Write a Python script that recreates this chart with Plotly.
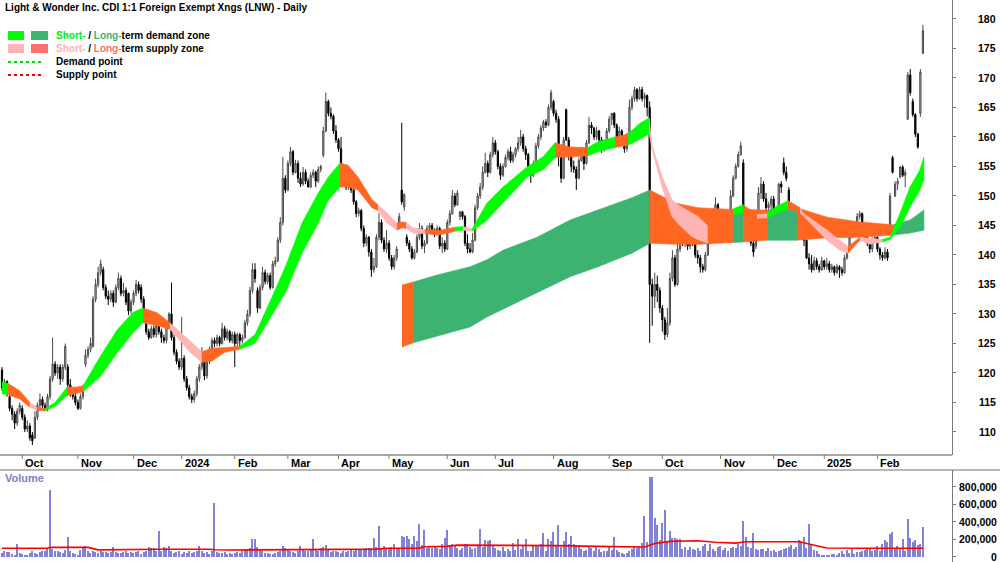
import plotly.graph_objects as go
import pandas as pd

TITLE = "Light &amp; Wonder Inc. CDI 1:1 Foreign Exempt Xngs (LNW) - Daily"

# ASX trading calendar for the chart period
holidays = ["2023-12-25", "2023-12-26", "2024-01-01", "2024-01-26", "2024-03-29", "2024-04-01",
            "2024-04-25", "2024-06-10", "2024-12-25", "2024-12-26", "2025-01-01", "2025-01-27"]
dates = pd.bdate_range("2023-09-20", "2025-02-27")
dates = dates[~dates.isin(pd.to_datetime(holidays))]

opens = [
    120.5, 117.5, 118.5, 116, 114, 113, 111.5, 113.5, 114, 112.5,
    110.5, 111, 109.5, 109, 112.5, 114.5, 115.5, 114.5, 114, 116,
    119, 121.5, 120, 121, 119, 121, 121, 118, 117, 116,
    115, 114, 116, 121.5, 123, 124, 124.5, 132.5, 135, 137,
    137.5, 134.5, 133, 132.5, 133.5, 132, 134.5, 136, 133.5, 134,
    133.5, 130.5, 132, 133.5, 135, 134.5, 132.5, 129, 127, 126,
    127.5, 126.5, 128, 127, 126, 125.5, 128, 130, 126, 123.5,
    122, 121, 122.5, 119, 117.5, 116, 115.5, 116.5, 119, 121,
    123, 119.5, 122, 124, 125.5, 125, 126, 125, 127.5, 126,
    127, 125.5, 126.5, 125, 126.5, 125.5, 126, 128.5, 130, 134,
    137.5, 134, 131, 134.5, 137, 135.5, 136.5, 134.5, 138.5, 139,
    142.5, 145.5, 153, 151, 155.5, 157.5, 154, 155.5, 153, 152,
    154, 152.5, 151.5, 153.5, 154, 152.5, 154.5, 156.9, 161, 166,
    164, 163.5, 161, 159.5, 158, 153.5, 152.5, 151.5, 152.5, 151,
    149, 147, 147.5, 144.5, 142, 143, 140.5, 137.5, 138, 143,
    145.5, 142.5, 141, 142, 139.5, 138, 139.5, 144.7, 151, 148.1,
    143, 142, 141, 139.5, 140.5, 143, 144.5, 141.5, 142, 144.5,
    145, 144, 143.5, 144.5, 141.5, 142, 141, 145.5, 147, 150,
    148.5, 146.5, 147.3, 146.5, 142, 141, 140.5, 142.5, 148, 150,
    151.5, 154, 155.5, 154, 157, 159, 157.5, 155, 153.5, 155,
    156.5, 157.5, 156, 157, 158, 159, 160, 158, 157, 154,
    153.5, 155.5, 158.5, 160, 161.5, 162.5, 162, 165, 166, 164,
    163, 157, 153, 164.6, 159.5, 157, 155, 154.5, 153, 156,
    157.5, 155.5, 159, 162, 161.5, 160, 161, 159.5, 158, 159,
    161, 163, 164, 162, 160, 161, 159.5, 158, 160, 165,
    166.5, 168, 166.5, 168, 166.5, 167, 165, 135, 133, 135,
    134, 131, 129, 126.5, 128.5, 136, 139.5, 135, 141, 144,
    142, 143, 141.5, 143, 142, 140, 139.5, 138, 137.5, 140,
    142, 144, 147, 148.5, 146, 145, 144, 145, 144.5, 150,
    153, 155, 157, 155.6, 147.5, 144, 144.5, 142, 141.5, 146,
    150.5, 152, 149.5, 148, 148.5, 149.5, 146, 147, 152, 155.6,
    154, 151, 147, 146, 145.5, 146.5, 145, 143, 142.5, 139.5,
    138.5, 137.5, 139, 138, 137.5, 139, 138, 138.5, 137.5, 138,
    137, 138, 137.5, 137, 139.5, 141, 143, 144.5, 145, 146.5,
    147, 144, 143, 142, 141, 142.5, 143, 141, 140, 139.5,
    140.5, 143.7, 156.5, 150, 152, 153.2, 154.9, 153.5, 163, 170.5,
    166, 163.8, 160.5, 164, 174.2,
]

highs = [
    121, 119, 118.8, 116.5, 114.5, 113.5, 114, 115, 114.5, 113,
    112, 111.5, 110, 113.5, 115, 116.5, 116, 115, 116.5, 119.5,
    126, 122, 121.5, 121.5, 121.5, 125, 121.5, 119, 117.5, 116.5,
    115.5, 116.5, 118, 124, 124.5, 126, 133, 136, 138, 139.2,
    138, 135, 134, 134, 134, 135, 137, 136.5, 135.3, 134.5,
    133.6, 132.5, 134, 135.8, 135.5, 135, 133, 129.5, 127.5, 128,
    128, 129, 128.5, 127.5, 126.5, 128.5, 130.3, 135.3, 126.5, 124,
    122.5, 129.5, 123, 119.5, 118, 116.5, 117, 119.5, 121.5, 124.4,
    123.5, 122.5, 124.5, 126, 126, 126.5, 126.3, 128.5, 128, 127.5,
    127.3, 127, 127, 126.8, 126.8, 126.5, 129, 130.7, 134.6, 138.6,
    138.6, 134.5, 135, 138, 137.5, 137, 137, 139, 139.7, 143,
    146.4, 156.6, 153.5, 156, 158.3, 157.8, 156.1, 156, 154, 154.9,
    154.5, 153, 154, 154.5, 154.3, 155, 155.3, 161.7, 167.5, 166.3,
    165, 163.8, 162, 159.8, 160, 154, 153.2, 153, 153, 151.5,
    149.3, 148, 147.8, 145, 143.5, 143.2, 141, 139.5, 143.5, 147.1,
    146, 143, 144.2, 142.5, 140, 140, 141.5, 147.1, 162.4, 150.5,
    143.5, 142.5, 141.5, 141, 143.5, 145.4, 145, 142.5, 145, 145.4,
    145.4, 144.5, 145, 144.8, 143, 142.5, 146, 147.6, 151, 150.5,
    151, 147.5, 147.5, 146.8, 143.5, 142, 143.7, 148.5, 150.5, 152.2,
    155, 157.3, 156, 157.5, 160, 159.5, 157.8, 155.5, 155.5, 157,
    158, 158.3, 157.5, 158.3, 160, 161.2, 160.5, 158.5, 157.3, 155,
    156, 159, 160.5, 162, 162.9, 163, 165.5, 168, 166.3, 164.6,
    163.5, 157.3, 160, 164.8, 160, 157.5, 156, 155, 156.5, 158.3,
    158, 159.5, 163.4, 162.5, 161.7, 161.7, 161.2, 160, 159.5, 161.5,
    163.5, 164, 164.2, 162.3, 161.7, 161.3, 160, 160.7, 166.3, 167,
    168.5, 168.3, 168.5, 168.5, 167.5, 167.2, 166, 136, 137, 136.5,
    134.5, 131.5, 129.5, 131, 137, 140.8, 140, 142, 145.4, 144.5,
    143.7, 143.5, 143.5, 143.2, 142.5, 140.8, 140, 138.5, 140.5, 142.5,
    144.7, 147.5, 149.8, 148.8, 146.4, 145.5, 145.5, 145.3, 151, 153.5,
    155.5, 157.5, 159.2, 156.2, 148, 145, 144.8, 142.5, 146.5, 151.5,
    153.2, 152.5, 150.5, 149, 150, 150, 147.5, 152.2, 152.5, 156.5,
    155, 151.5, 147.5, 146.5, 147.1, 146.8, 145.3, 144.2, 142.8, 140.3,
    140, 139.7, 139.5, 138.5, 139.7, 139.2, 139.5, 139, 138.5, 138.2,
    138.5, 138.3, 138, 140, 141.3, 143.5, 145, 145.5, 147.1, 147.5,
    147.2, 144.5, 143.7, 142.5, 143, 143.7, 143.2, 141.3, 140.5, 141.3,
    141, 150.5, 156.8, 152.5, 153, 155, 155.2, 154.5, 171, 171.5,
    166.5, 164, 160.7, 171.5, 179,
]

lows = [
    117, 116.5, 116, 113.5, 112, 110.5, 111, 113, 112, 110,
    110, 108.5, 107.8, 108.8, 112, 114, 114, 113.5, 113.5, 115.5,
    118.5, 119.5, 119, 118, 118.5, 120.5, 117.5, 116, 115.5, 114.5,
    113.7, 113.8, 115.5, 121, 122.5, 123.5, 124.3, 132, 134.5, 136.5,
    134, 132.5, 131.5, 132, 131.2, 131.8, 134, 133, 133, 131.5,
    129.8, 130, 131.5, 133, 133.5, 131.9, 128.5, 126.5, 125.6, 125.8,
    126, 126, 126.5, 125.1, 125, 125, 127.5, 125.5, 123, 121.5,
    120.5, 120.5, 118.5, 117, 115.5, 114.9, 115, 116, 118.5, 120.5,
    118.8, 119, 121.5, 123.5, 124.4, 124.5, 124.5, 124.8, 125.5, 125.5,
    125.1, 125, 121, 124.5, 124.4, 125, 125.8, 128, 129.5, 133.5,
    135.3, 130.2, 130.8, 134, 135, 135, 134.1, 134.3, 138, 138.8,
    142, 145, 150.5, 150.8, 155, 153.5, 153.8, 152.2, 151.5, 151.7,
    152, 151.5, 151.3, 153, 151.5, 152.2, 154, 156.5, 160.8, 163.5,
    163, 160.5, 159, 157.5, 152.7, 152, 151, 151, 150.5, 148.5,
    146.4, 146.5, 144, 141.3, 141.5, 139.7, 136.3, 137, 137.8, 142.5,
    142, 140.5, 140.3, 139, 137.5, 137.5, 139, 144.5, 148.5, 147.5,
    141.5, 140.5, 139.2, 139.2, 140.3, 142.5, 141, 140.3, 141.8, 144,
    143.5, 143, 143.3, 141, 140.3, 140.5, 140.8, 145, 146.8, 148.1,
    148.3, 145.9, 146, 141.5, 140.3, 140.3, 140.3, 142.3, 147.6, 149.5,
    151, 153.8, 153.2, 153.8, 156.5, 157, 154.5, 152.7, 153.2, 154.8,
    156, 155.6, 155.6, 156.5, 157.5, 158.5, 157.5, 156.1, 153.8, 152.2,
    153.2, 155.2, 158, 159.5, 161, 161.5, 161.8, 164.5, 163.5, 162.4,
    155, 152.2, 152.8, 159.3, 156, 154, 153.9, 151, 152.8, 155.8,
    154.4, 155.3, 158.8, 160.5, 159.5, 159.5, 159, 157.3, 157.5, 158.8,
    160.7, 162, 161.5, 159.5, 159, 159, 157.3, 157.5, 159.8, 164.5,
    166, 166, 166.3, 166, 165, 163.5, 125.1, 128, 131, 132,
    130.2, 127, 125.6, 126.1, 128, 135.5, 134.6, 134.8, 140.5, 141.5,
    141.3, 140.8, 141, 141.5, 139.5, 138.5, 137, 137, 137.2, 139.8,
    141.8, 143.8, 146.8, 145.5, 144.5, 143, 143.5, 143, 144.3, 149.8,
    152.8, 154.8, 156.8, 147, 143, 143, 141.5, 139.7, 141, 145.8,
    149.5, 149, 147.5, 147, 147.5, 145.6, 145.5, 146.8, 150.5, 153.5,
    152.5, 146.5, 145.5, 145, 145.3, 144.2, 142.8, 141.5, 139.3, 137.5,
    137, 137.3, 137.5, 137, 137.3, 137.5, 137.5, 137, 137, 136.5,
    136.8, 136.1, 136.5, 136.8, 139.2, 140.8, 142.8, 144, 144.8, 146,
    143.7, 142.5, 141.5, 140.3, 140.5, 142, 140.5, 139.2, 139, 139.2,
    139, 143.5, 153.8, 149.8, 151, 153, 153.2, 151.5, 162.9, 167,
    163.4, 160, 158, 163.4, 174,
]

closes = [
    117.5, 118.5, 116.5, 114, 113, 111.5, 113.5, 114.5, 112.5, 110.5,
    111, 109, 108.5, 112.5, 114.5, 115.5, 114.5, 114, 116, 119,
    121.5, 120, 121, 119, 121, 124.5, 118, 117, 116, 115,
    114, 116, 117, 123, 124, 125, 132.5, 135, 137, 138.5,
    134.5, 133, 132.5, 133.5, 132, 134.5, 136, 133.5, 134, 132,
    130.5, 132, 133.5, 135, 134, 132.5, 129, 127, 126, 127.5,
    126.5, 128, 127, 126, 125.5, 128, 130, 126, 123.5, 122,
    121, 122.5, 119, 117.5, 116, 115.5, 116.5, 119, 121, 123,
    119.5, 122, 124, 125.5, 125, 126, 125, 127.5, 126, 127,
    125.5, 126.5, 125, 126.5, 125.5, 126, 128.5, 130, 134, 137.5,
    136, 131, 134.5, 137, 135.5, 136.5, 134.5, 138.5, 139, 142.5,
    145.5, 153, 151, 155.5, 157.5, 154, 155.5, 153, 152, 154,
    152.5, 151.5, 153.5, 154, 152.5, 154.5, 155, 161, 166, 164,
    163.5, 161, 159.5, 158, 153.5, 152.5, 151.5, 152.5, 151, 149,
    147, 147.5, 144.5, 142, 143, 140.5, 137.5, 138, 143, 145.5,
    142.5, 141, 142, 139.5, 138, 139.5, 141, 146.5, 149, 150.2,
    142, 141, 139.5, 140.5, 143, 144.5, 141.5, 142, 144.5, 145,
    144, 143.5, 144.5, 141.5, 142, 141, 145.5, 147, 150, 148.5,
    150.5, 147.3, 146.5, 142, 141, 140.5, 142.5, 148, 150, 151.5,
    154, 155.5, 154, 157, 159, 157.5, 155, 153.5, 155, 156.5,
    157.5, 156, 157, 158, 159, 160, 158, 157, 154, 153.5,
    155.5, 158.5, 160, 161.5, 162.5, 162, 165, 167.5, 164, 163,
    157, 153, 159.5, 159.5, 157, 155, 154.5, 153, 156, 157.5,
    155.5, 159, 162, 161.5, 160, 161, 159.5, 158, 159, 161,
    163, 164, 162, 160, 161, 159.5, 158, 160, 165, 166.5,
    168, 166.5, 168, 166.5, 167, 165, 135, 133, 135, 134,
    131, 129, 126.5, 128.5, 136, 139.5, 135, 141, 144, 142,
    143, 141.5, 143, 142, 140, 139.5, 138, 137.5, 140, 142,
    144, 147, 148.5, 146, 145, 144, 145, 144.5, 150, 153,
    155, 157, 158.5, 147.5, 144, 144.5, 142, 140.5, 146, 150.5,
    152, 149.5, 148, 148.5, 149.5, 146, 147, 152, 151.5, 154,
    153, 147, 146, 145.5, 146.5, 145, 143, 142.5, 139.5, 138.5,
    137.5, 139, 138, 137.5, 139, 138, 138.5, 137.5, 138, 137,
    138, 137.5, 137, 139.5, 141, 143, 144.5, 145, 146.5, 147,
    144, 143, 142, 141, 142.5, 143, 141, 140, 139.5, 140.5,
    139.5, 150, 154, 152, 152.5, 154.9, 153.5, 154, 170.5, 167.5,
    163.8, 160.5, 158.3, 171, 178,
]

# volume in thousands of shares
volumes_k = [
    45, 60, 55, 50, 30, 20, 145, 40, 35, 15,
    20, 45, 60, 40, 30, 55, 70, 60, 95, 762,
    90, 70, 60, 55, 40, 75, 229, 65, 40, 30,
    20, 80, 110, 122, 60, 45, 70, 55, 40, 60,
    50, 55, 45, 50, 115, 50, 40, 45, 55, 60,
    45, 55, 40, 50, 60, 35, 50, 65, 110, 100,
    100, 60, 297, 70, 115, 100, 122, 60, 45, 55,
    65, 35, 50, 40, 60, 45, 55, 70, 122, 60,
    40, 55, 35, 65, 610, 50, 45, 40, 55, 35,
    40, 30, 45, 55, 40, 60, 85, 90, 100, 202,
    200, 110, 90, 60, 45, 40, 35, 30, 40, 50,
    70, 120, 95, 80, 60, 55, 45, 60, 120, 85,
    60, 70, 90, 200, 80, 60, 95, 110, 130, 75,
    55, 60, 70, 50, 45, 65, 55, 70, 80, 60,
    75, 90, 80, 85, 95, 100, 95, 217, 110, 351,
    100, 120, 90, 95, 110, 140, 105, 100, 240, 230,
    240, 200, 150, 240, 180, 370, 130, 300, 100, 110,
    95, 120, 105, 90, 140, 210, 310, 130, 140, 120,
    95, 80, 100, 140, 140, 110, 85, 95, 120, 320,
    110, 190, 185, 190, 120, 100, 80, 60, 110, 70,
    90, 60, 156, 80, 200, 90, 120, 200, 70, 60,
    120, 130, 130, 150, 266, 60, 200, 177, 288, 120,
    362, 110, 180, 280, 150, 240, 150, 130, 120, 90,
    60, 80, 110, 95, 60, 120, 85, 50, 70, 65,
    110, 80, 225, 75, 50, 40, 30, 45, 60, 90,
    110, 100, 120, 160, 465, 170, 907, 907, 440, 365,
    190, 380, 533, 170, 290, 210, 215, 205, 200, 90,
    110, 80, 115, 90, 75, 100, 70, 120, 140, 60,
    140, 90, 65, 110, 120, 80, 95, 70, 100, 110,
    95, 150, 120, 411, 230, 110, 100, 270, 90, 80,
    85, 90, 70, 100, 60, 75, 55, 60, 75, 90,
    100, 110, 130, 90, 110, 190, 180, 220, 100, 374,
    130, 80, 60, 30, 20, 15, 25, 20, 30, 35,
    25, 45, 60, 30, 75, 40, 85, 30, 50, 55,
    60, 80, 90, 100, 60, 80, 120, 70, 150, 190,
    170, 260, 280, 100, 120, 90, 200, 70, 431, 218,
    170, 190, 130, 140, 336,
]

# red volume average line (bar position, thousands)
vol_avg_x = [0, 18, 19, 34, 38, 56, 62, 82, 84, 90, 130, 133, 148, 152, 165, 167, 176, 180,
             210, 220, 235, 250, 254, 258, 264, 275, 282, 290, 294, 315, 318, 326, 340, 364]
vol_avg_k = [96, 96, 106, 106, 78, 77, 85, 85, 80, 76, 77, 84, 86, 96, 98, 114, 118, 132,
             132, 126, 118, 112, 110, 150, 175, 182, 165, 155, 170, 170, 150, 100, 96, 96]

# short-term zone: bar position, upper, lower, zone type of the stretch that starts here
st_x = [0, 2.4, 7, 11, 13.8, 17, 21, 25.7, 29, 32, 38.7, 45.5, 51.8, 55.7, 61.3, 66.4, 74.3, 79,
        83, 88, 94, 100, 105, 112, 118.6, 125, 129, 133.6, 136.8, 140.7, 146.2, 148.6, 152.2,
        156.1, 158.1, 159.7, 162.5, 167.2, 173, 179, 182.2, 185.8, 191.7, 198, 207.5, 213.8,
        218.6, 224.5, 231.6, 235.6, 242.3, 247.4, 252.2, 255.8, 256.9, 260.9, 264.8, 267.2,
        272.7, 275.1, 279, 283.8, 288.9, 292.9, 298.4, 302.4, 306, 310.7, 315.4, 316.6, 326.1,
        331.2, 334.4, 339.1, 343, 348, 351, 355, 358.9, 362.8, 364.4]
st_hi = [118.5, 118.2, 117, 115, 114.2, 114, 115, 117.6, 117.6, 117.8, 122.7, 127.3, 130.3, 131,
         130.2, 128.5, 125.5, 123.6, 124.2, 124.3, 124.5, 126.5, 131.2, 138, 145.4, 150.5, 153.2,
         155.6, 155.2, 153.2, 149.4, 148.5, 147.1, 145.4, 145.6, 145.5, 144.6, 144.3, 144.2,
         144.7, 144.8, 144.4, 148.8, 151.5, 154.9, 156.6, 159, 158.3, 158.2, 159.2, 160, 160.5,
         162.3, 163.2, 158.6, 153.3, 149.4, 148.5, 147.2, 146.5, 144.9, 144.5, 147.8, 148.5,
         146.8, 147, 148.2, 149.2, 148, 147.1, 144.2, 142.5, 141.4, 143, 142.8, 142.6, 143,
         147.1, 151.5, 154.4, 156.6]
st_lo = [116.5, 116.3, 115.6, 114.2, 113.7, 113.6, 114.3, 116.2, 116.5, 116.8, 119.3, 123.4,
         126.8, 128.5, 128, 127.4, 123.5, 121.8, 122, 123.5, 124, 125, 128.5, 133.6, 140.3,
         145.4, 149.3, 151.5, 151.5, 151, 148, 147.5, 145.4, 144.2, 144.6, 144.5, 143.7, 143.6,
         143.4, 144, 144.2, 144, 145.9, 148.8, 153.2, 154.4, 156.5, 156.6, 156.8, 157.5, 158.2,
         158.6, 159.6, 160.5, 158, 151.5, 146.5, 145.3, 143.1, 142.6, 142, 143, 146.8, 147.2,
         146.2, 146.3, 147, 147.8, 147.2, 146.6, 142.5, 140.8, 140.3, 142.5, 141.8, 142.2, 142.6,
         144.7, 148.1, 151, 152.7]
st_zone = ["G", "O", "O", "P", "O", "G", "G", "O", "O", "G", "G", "G", "G", "O", "O", "P", "P",
           "O", "O", "O", "G", "G", "G", "G", "G", "G", "G", "O", "O", "O", "O", "P", "P", "O",
           "O", "P", "P", "O", "O", "G", "P", "G", "G", "G", "G", "G", "O", "O", "G", "G", "O",
           "G", "G", "P", "P", "P", "P", "P", "P", "P", "O", "O", "G", "O", "P", "G", "G", "O",
           "P", "P", "P", "P", "O", "P", "P", "G", "G", "G", "G", "G", "G"]

# long-term zone
lt_x = [158.1, 162.5, 172, 185, 191.7, 198, 211.5, 224.5, 235.6, 249, 256.1, 266, 275.1, 281.8,
        288.9, 292.9, 301.6, 302.4, 314.2, 326.1, 339.1, 352.2, 358.9, 364.4]
lt_hi = [134.9, 135.4, 136.6, 138, 139.2, 140.8, 143, 145.9, 147.6, 149.7, 151, 148.8, 148,
         147.8, 147.7, 147.7, 147.6, 147.6, 148, 146.4, 145.6, 145.1, 145.9, 147.6]
lt_lo = [124.4, 125.1, 126.3, 127.8, 129.5, 130.7, 133.6, 136.3, 138, 140.3, 142, 141.8, 141.8,
         142, 142.1, 142.2, 142.5, 142.5, 142.5, 142.9, 143, 143.4, 143.7, 144.2]
lt_zone = ["O", "S", "S", "S", "S", "S", "S", "S", "S", "S", "O", "O", "O", "O", "S", "O", "O",
           "S", "O", "O", "O", "S", "S", "S"]

price_ticks = [110, 115, 120, 125, 130, 135, 140, 145, 150, 155, 160, 165, 170, 175, 180]
vol_ticks_k = [0, 200, 400, 600, 800]
vol_tick_text = ["0", "200,000", "400,000", "600,000", "800,000"]

n = len(closes)
assert n == len(dates) and all(len(a) == n for a in (opens, highs, lows, volumes_k))
bar_pos = list(range(n))

ZONE_COL = {"G": "#00ff00", "S": "#3cb371", "O": "#ff6622", "P": "#ffb5b5"}
FONT = "Liberation Sans, Arial, sans-serif"
W, H, PR = 1000, 562, 952


def px(x):
    return x / PR


def py(y):
    return 1 - y / H


def zone_traces(xs, hi, lo, zone):
    out = []
    k = 0
    m = len(xs)
    while k < m - 1:
        c = zone[k]
        j = k
        while j < m - 1 and zone[j] == c:
            j += 1
        sx = xs[k:j + 1]
        out.append(go.Scatter(
            x=sx + sx[::-1], y=hi[k:j + 1] + lo[k:j + 1][::-1],
            fill="toself", fillcolor=ZONE_COL[c], mode="lines",
            line=dict(width=0.6, color=ZONE_COL[c]), hoverinfo="skip", showlegend=False,
            xaxis="x", yaxis="y"))
        k = j
    return out


fig = go.Figure()
for t in zone_traces(lt_x, lt_hi, lt_lo, lt_zone):
    fig.add_trace(t)
for t in zone_traces(st_x, st_hi, st_lo, st_zone):
    fig.add_trace(t)

fig.add_trace(go.Candlestick(
    x=bar_pos, open=opens, high=highs, low=lows, close=closes,
    increasing=dict(fillcolor="#c4c4c4", line=dict(color="#4a4a4a", width=1)),
    decreasing=dict(fillcolor="#000000", line=dict(color="#000000", width=1)),
    whiskerwidth=0, hoverinfo="skip", showlegend=False, xaxis="x", yaxis="y"))

fig.add_trace(go.Bar(x=bar_pos, y=volumes_k, width=0.5, marker=dict(color="#8282d4", line=dict(width=0)),
                     hoverinfo="skip", showlegend=False, xaxis="x2", yaxis="y2"))
fig.add_trace(go.Scatter(x=vol_avg_x, y=vol_avg_k, mode="lines", line=dict(color="#ff0000", width=1.6),
                         hoverinfo="skip", showlegend=False, xaxis="x2", yaxis="y2"))

xr = [-2 / 2.53, (PR - 2) / 2.53]
price_dom = [py(455), 1]
vol_dom = [0, py(470)]

fig.update_layout(
    width=W, height=H, autosize=False,
    margin=dict(l=0, r=W - PR, t=0, b=0),
    paper_bgcolor="white", plot_bgcolor="white",
    showlegend=False, bargap=0,
    xaxis=dict(domain=[0, 1], range=xr, visible=False, rangeslider=dict(visible=False), anchor="y"),
    yaxis=dict(domain=price_dom, range=[106.1, 183.2], side="right", showline=True,
               linecolor="#7a7a7a", linewidth=1, ticks="outside", ticklen=3, tickcolor="#7a7a7a",
               tickvals=price_ticks, showticklabels=False, showgrid=False, zeroline=False, anchor="x"),
    xaxis2=dict(domain=[0, 1], range=xr, visible=False, matches="x", anchor="y2"),
    yaxis2=dict(domain=vol_dom, range=[-60.6, 990.8], side="right", showline=True,
                linecolor="#7a7a7a", linewidth=1, ticks="outside", ticklen=3, tickcolor="#7a7a7a",
                tickvals=vol_ticks_k, showticklabels=False, showgrid=False, zeroline=False, anchor="x2"),
)

ann = []
shapes = []

ann.append(dict(text="<b>" + TITLE + "</b>", x=px(3), y=py(8), xref="paper", yref="paper",
                xanchor="left", yanchor="middle", showarrow=False, font=dict(family=FONT, size=10, color="#000")))

# legend
shapes += [
    dict(type="rect", xref="paper", yref="paper", x0=px(8), x1=px(24), y0=py(31), y1=py(40),
         fillcolor="#00ff00", line=dict(width=0)),
    dict(type="rect", xref="paper", yref="paper", x0=px(31), x1=px(48), y0=py(31), y1=py(40),
         fillcolor="#3cb371", line=dict(width=0)),
    dict(type="rect", xref="paper", yref="paper", x0=px(8), x1=px(24), y0=py(44), y1=py(53),
         fillcolor="#ffb5b5", line=dict(width=0)),
    dict(type="rect", xref="paper", yref="paper", x0=px(31), x1=px(48), y0=py(44), y1=py(53),
         fillcolor="#ff6f6f", line=dict(width=0)),
    dict(type="line", xref="paper", yref="paper", x0=px(8), x1=px(44), y0=py(62), y1=py(62),
         line=dict(color="#00dd00", width=2, dash="dot")),
    dict(type="line", xref="paper", yref="paper", x0=px(8), x1=px(44), y0=py(75), y1=py(75),
         line=dict(color="#ff0000", width=2, dash="dot")),
]
legend_rows = [
    ('<span style="color:#00ee00">Short-</span> / <span style="color:#3cb371">Long-</span>term demand zone', 35.5),
    ('<span style="color:#ffb3b3">Short-</span> / <span style="color:#ff6b6b">Long-</span>term supply zone', 48.5),
    ("Demand point", 62),
    ("Supply point", 75),
]
for txt, yy in legend_rows:
    ann.append(dict(text="<b>" + txt + "</b>", x=px(54), y=py(yy), xref="paper", yref="paper",
                    xanchor="left", yanchor="middle", showarrow=False,
                    font=dict(family=FONT, size=10, color="#000")))

# separators
shapes += [
    dict(type="line", xref="paper", yref="paper", x0=0, x1=1, y0=py(455), y1=py(455),
         line=dict(color="#a8a8a8", width=2)),
    dict(type="line", xref="paper", yref="paper", x0=0, x1=px(1000), y0=py(470), y1=py(470),
         line=dict(color="#707070", width=1)),
]

# month axis
prev = None
for i, d in enumerate(dates):
    key = (d.year, d.month)
    if key != prev:
        if prev is not None:
            lbl = str(d.year) if d.month == 1 else d.strftime("%b")
            shapes.append(dict(type="line", xref="x", yref="paper", x0=i, x1=i, y0=py(455), y1=py(459),
                               line=dict(color="#7a7a7a", width=1)))
            ann.append(dict(text="<b>" + lbl + "</b>", x=i, y=py(463), xref="x", yref="paper",
                            xanchor="left", yanchor="middle", xshift=1, showarrow=False,
                            font=dict(family=FONT, size=11, color="#000")))
        prev = key

# price labels
for v in price_ticks:
    ann.append(dict(text="<b>%d</b>" % v, x=px(998), y=v, xref="paper", yref="y",
                    xanchor="right", yanchor="middle", showarrow=False,
                    font=dict(family=FONT, size=10.5, color="#000")))
for v, t in zip(vol_ticks_k, vol_tick_text):
    ann.append(dict(text="<b>" + t + "</b>", x=px(999), y=v, xref="paper", yref="y2",
                    xanchor="right", yanchor="middle", showarrow=False,
                    font=dict(family=FONT, size=10.5, color="#000")))

ann.append(dict(text="<b>Volume</b>", x=px(3), y=py(478), xref="paper", yref="paper",
                xanchor="left", yanchor="middle", showarrow=False,
                font=dict(family=FONT, size=11, color="#8080c4")))

fig.update_layout(annotations=ann, shapes=shapes)
fig.write_html("out.html", config={"displayModeBar": False},
               post_script="document.body.style.margin='0';document.body.style.padding='0';")
